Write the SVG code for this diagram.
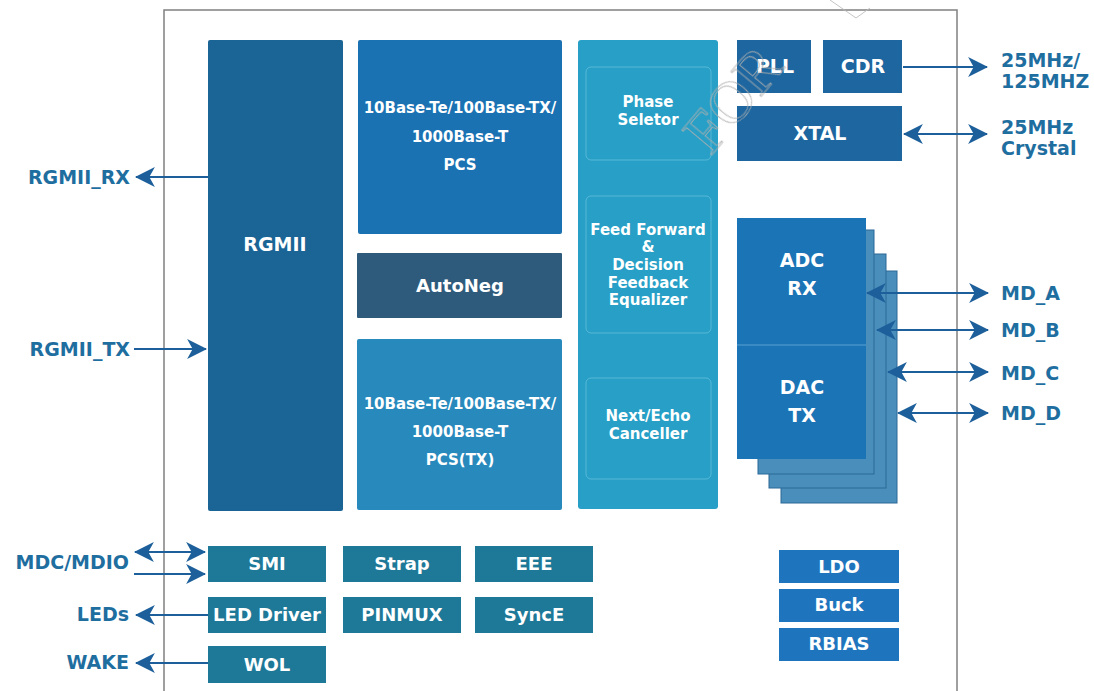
<svg xmlns="http://www.w3.org/2000/svg" width="1094" height="691" viewBox="0 0 1094 691">
<defs>
<style>
.t{font-family:"DejaVu Sans",Verdana,sans-serif;font-weight:bold;fill:#fff;text-anchor:middle}
.l{font-family:"DejaVu Sans",Verdana,sans-serif;font-weight:bold;fill:#1f6ea0;font-size:19px}
.c{stroke:#1c5f9a;stroke-width:2;fill:none}
.inner{fill:none;stroke:#6cc3de;stroke-width:1;stroke-opacity:0.7}
</style>
<marker id="ah" markerUnits="userSpaceOnUse" markerWidth="20" markerHeight="20" viewBox="0 0 18 18" refX="17" refY="9" orient="auto-start-reverse">
<path d="M0,0 L18,9 L0,18 L5,9 z" fill="#1c5f9a"/>
</marker>
</defs>
<rect width="1094" height="691" fill="#fff"/>
<rect id="frame" x="164" y="10" width="793" height="700" fill="none" stroke="#808080" stroke-width="1.5"/>

<g id="rgmii"><rect x="208" y="40" width="135" height="471" rx="2" fill="#1a6496"/><text class="t" x="275" y="251" font-size="19">RGMII</text></g>
<g id="pcs"><rect x="358" y="40" width="204" height="194" rx="2" fill="#1a72b3"/>
<text class="t" font-size="15" x="460" y="113">10Base-Te/100Base-TX/</text>
<text class="t" font-size="15" x="460" y="142">1000Base-T</text>
<text class="t" font-size="15" x="460" y="170">PCS</text></g>
<g id="autoneg"><rect x="357" y="253" width="205" height="65" rx="1" fill="#2e5b7c"/><text class="t" font-size="18" x="460" y="292">AutoNeg</text></g>
<g id="pcstx"><rect x="357" y="339" width="205" height="171" rx="2" fill="#2889bd"/>
<text class="t" font-size="15" x="460" y="409">10Base-Te/100Base-TX/</text>
<text class="t" font-size="15" x="460" y="437">1000Base-T</text>
<text class="t" font-size="15" x="460" y="465">PCS(TX)</text></g>
<g id="dsp"><rect x="578" y="40" width="140" height="469" rx="3" fill="#279fc6"/>
<rect class="inner" x="586" y="67" width="125" height="93" rx="5"/>
<rect class="inner" x="586" y="196" width="125" height="137" rx="5"/>
<rect class="inner" x="586" y="378" width="125" height="101" rx="5"/>
<text class="t" font-size="15" x="648" y="107">Phase</text>
<text class="t" font-size="15" x="648" y="125">Seletor</text>
<text class="t" font-size="15" x="648" y="235">Feed Forward</text>
<text class="t" font-size="15" x="648" y="252">&amp;</text>
<text class="t" font-size="15" x="648" y="270">Decision</text>
<text class="t" font-size="15" x="648" y="288">Feedback</text>
<text class="t" font-size="15" x="648" y="305">Equalizer</text>
<text class="t" font-size="15" x="648" y="421">Next/Echo</text>
<text class="t" font-size="15" x="648" y="439">Canceller</text></g>
<g id="pll"><rect x="737" y="40" width="74" height="53" fill="#1d669f"/><text class="t" font-size="19" x="775" y="73">PLL</text></g>
<g id="cdr"><rect x="823" y="40" width="79" height="53" fill="#1d669f"/><text class="t" font-size="19" x="863" y="73">CDR</text></g>
<g id="xtal"><rect x="737" y="106" width="165" height="55" fill="#1d669f"/><text class="t" font-size="19" x="820" y="140">XTAL</text></g>
<g id="adcdac">
<rect x="781" y="271" width="116" height="232" fill="#4a8fbb" stroke="#2b6896" stroke-width="1"/>
<rect x="769" y="254" width="117" height="234" fill="#4a8fbb" stroke="#2b6896" stroke-width="1"/>
<rect x="758" y="230" width="116" height="244" fill="#4a8fbb" stroke="#2b6896" stroke-width="1"/>
<rect x="737" y="218" width="129" height="241" fill="#1b74b6"/>
<line x1="737" y1="345" x2="866" y2="345" stroke="#5b9fd0" stroke-width="1.2"/>
<text class="t" font-size="19" x="802" y="267">ADC</text>
<text class="t" font-size="19" x="802" y="295">RX</text>
<text class="t" font-size="19" x="802" y="394">DAC</text>
<text class="t" font-size="19" x="802" y="422">TX</text></g>
<g id="smi"><rect x="208" y="546" width="118" height="36" fill="#1e7898"/><text class="t" font-size="18" x="267" y="570">SMI</text></g>
<g id="strap"><rect x="343" y="546" width="118" height="36" fill="#1e7898"/><text class="t" font-size="18" x="402" y="570">Strap</text></g>
<g id="eee"><rect x="475" y="546" width="118" height="36" fill="#1e7898"/><text class="t" font-size="18" x="534" y="570">EEE</text></g>
<g id="led"><rect x="208" y="597" width="118" height="36" fill="#1e7898"/><text class="t" font-size="18" x="267" y="621">LED Driver</text></g>
<g id="pinmux"><rect x="343" y="597" width="118" height="36" fill="#1e7898"/><text class="t" font-size="18" x="402" y="621">PINMUX</text></g>
<g id="synce"><rect x="475" y="597" width="118" height="36" fill="#1e7898"/><text class="t" font-size="18" x="534" y="621">SyncE</text></g>
<g id="wol"><rect x="208" y="646" width="118" height="37" fill="#1e7898"/><text class="t" font-size="18" x="267" y="671">WOL</text></g>
<g id="ldo"><rect x="779" y="550" width="120" height="33" fill="#1f75bd"/><text class="t" font-size="18" x="839" y="573">LDO</text></g>
<g id="buck"><rect x="779" y="589" width="120" height="33" fill="#1f75bd"/><text class="t" font-size="18" x="839" y="611">Buck</text></g>
<g id="rbias"><rect x="779" y="628" width="120" height="33" fill="#1f75bd"/><text class="t" font-size="18" x="839" y="650">RBIAS</text></g>

<g id="connectors">
<line class="c" x1="208" y1="177" x2="136" y2="177" marker-end="url(#ah)"/>
<line class="c" x1="134" y1="349" x2="206" y2="349" marker-end="url(#ah)"/>
<line class="c" x1="903" y1="67" x2="987" y2="67" marker-end="url(#ah)"/>
<line class="c" x1="904" y1="134" x2="987" y2="134" marker-start="url(#ah)" marker-end="url(#ah)"/>
<line class="c" x1="867" y1="293" x2="988" y2="293" marker-start="url(#ah)" marker-end="url(#ah)"/>
<line class="c" x1="877" y1="330" x2="988" y2="330" marker-start="url(#ah)" marker-end="url(#ah)"/>
<line class="c" x1="888" y1="372" x2="988" y2="372" marker-start="url(#ah)" marker-end="url(#ah)"/>
<line class="c" x1="898" y1="413" x2="988" y2="413" marker-start="url(#ah)" marker-end="url(#ah)"/>
<line class="c" x1="135" y1="552" x2="205" y2="552" marker-start="url(#ah)" marker-end="url(#ah)"/>
<line class="c" x1="134" y1="574" x2="205" y2="574" marker-end="url(#ah)"/>
<line class="c" x1="208" y1="615" x2="136" y2="615" marker-end="url(#ah)"/>
<line class="c" x1="208" y1="663" x2="136" y2="663" marker-end="url(#ah)"/>
</g>

<g id="labels">
<text class="l" x="130" y="184" text-anchor="end">RGMII_RX</text>
<text class="l" x="130" y="356" text-anchor="end">RGMII_TX</text>
<text class="l" x="1001" y="67">25MHz/</text>
<text class="l" x="1001" y="88">125MHZ</text>
<text class="l" x="1001" y="134">25MHz</text>
<text class="l" x="1001" y="155">Crystal</text>
<text class="l" x="1001" y="300">MD_A</text>
<text class="l" x="1001" y="337">MD_B</text>
<text class="l" x="1001" y="380">MD_C</text>
<text class="l" x="1001" y="420">MD_D</text>
<text class="l" x="129" y="569" text-anchor="end">MDC/MDIO</text>
<text class="l" x="129" y="621" text-anchor="end">LEDs</text>
<text class="l" x="129" y="669" text-anchor="end">WAKE</text>
</g>

<g id="watermark" opacity="0.85">
<text x="0" y="0" transform="translate(748,112) rotate(-50)" text-anchor="middle" font-family="Liberation Serif, serif" font-size="60" fill="none" stroke="#b0b0b0" stroke-width="1">FOR</text>
<polyline points="830,0 856,18 870,8" fill="none" stroke="#bbb" stroke-width="1"/>
</g>
</svg>
